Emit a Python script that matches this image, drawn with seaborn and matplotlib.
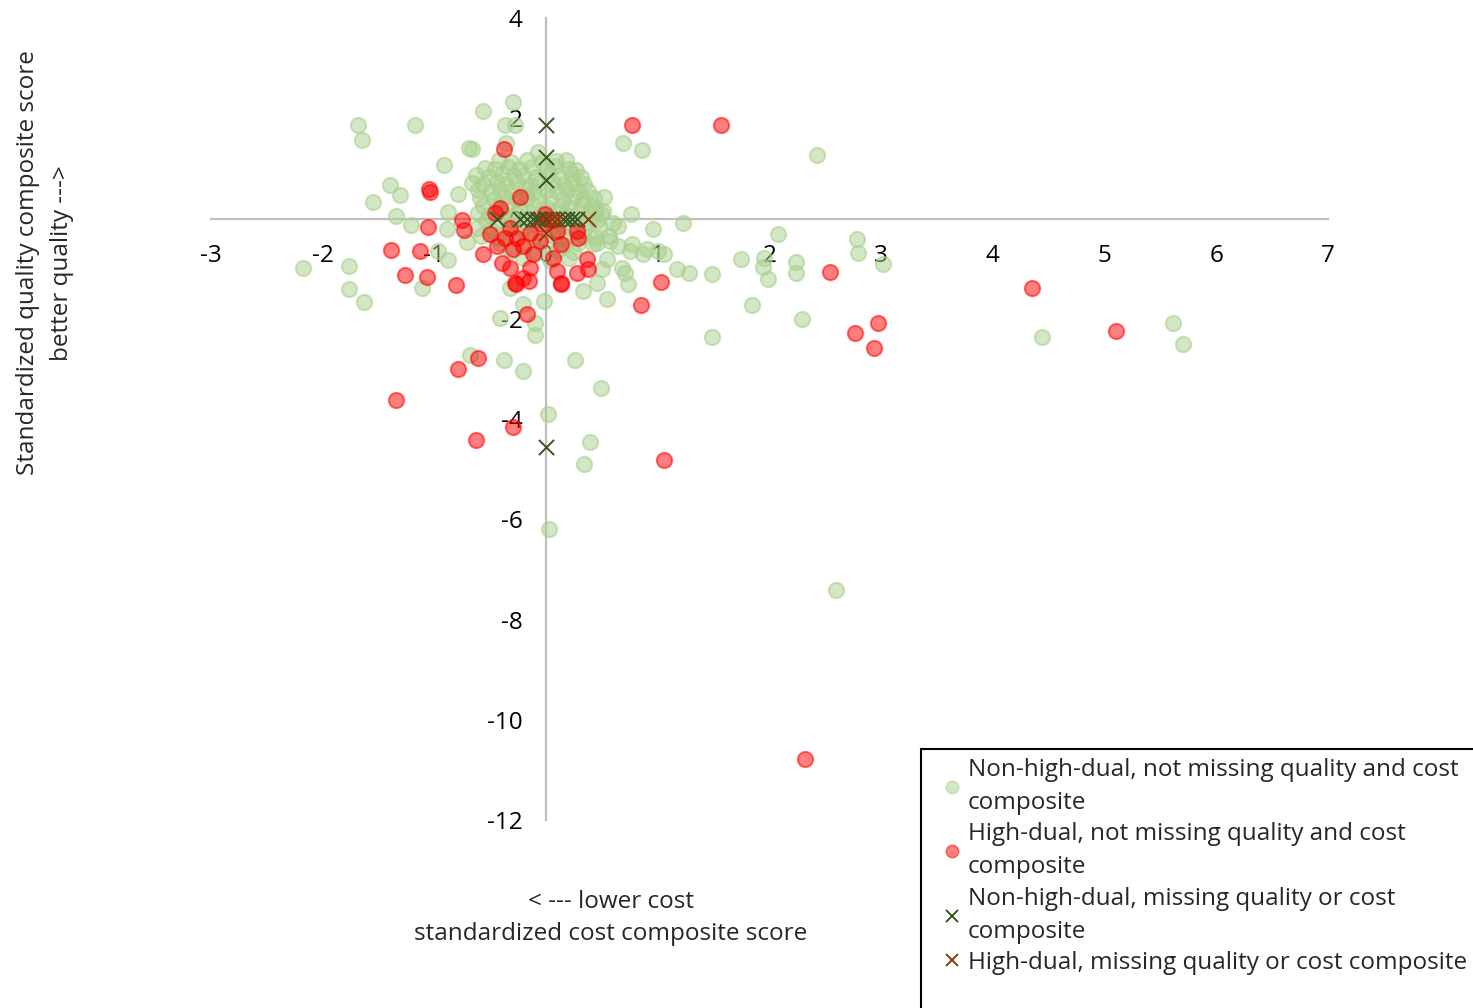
import matplotlib
matplotlib.use("Agg")
import matplotlib.pyplot as plt
import seaborn as sns
import pandas as pd
from matplotlib.lines import Line2D
from matplotlib.patches import Rectangle

# ------------------- Data ------------------- #
# non-high-dual, not missing quality and cost composite
green_x = [
    -2.18, -1.76, -1.76, -1.63, -1.68, -1.65, -1.17, -0.56, -0.30, -0.37, -0.28,
    -0.69, -0.66, -0.36, -0.07, 0.18, 0.69, 0.86, 2.43, -0.91, -1.40, -1.31,
    -1.55, -1.34, -1.21, -0.79, -0.88, -0.89, -0.71, -0.97, -0.88, -1.11,
    0.52, 0.44, 0.76, 0.51, 1.23, 0.96, 0.60, 0.64, 0.56, 0.57, 0.64, 0.77,
    0.75, 0.87, 0.90, 1.00, 1.06, 0.68, 0.71, 0.73, 0.50, 0.46, 0.55, 1.17,
    1.28, 1.49, 2.08, 2.78, 2.79, 1.75, 1.95, 1.94, 1.99, 2.24, 2.24, 3.02,
    1.84, 2.29, 1.49, 4.44, 5.61, 5.70, 2.60,
    -0.32, 0.33, -0.21, -0.02, -0.41, -0.10, -0.10, -0.68, -0.38, -0.21, 0.26,
    0.49, 0.02, 0.39, 0.34, 0.03, 0.55, 0.46,
    # dense cluster
    -0.42, -0.31, -0.17, -0.04, 0.09, -0.55, -0.46, -0.34, -0.24, -0.13, 0.01,
    0.08, 0.21, 0.27, -0.63, -0.51, -0.39, -0.29, -0.21, -0.09, 0.03, 0.12,
    0.23, 0.31, -0.66, -0.56, -0.44, -0.36, -0.26, -0.14, -0.06, 0.06, 0.16,
    0.24, 0.34, -0.61, -0.49, -0.41, -0.31, -0.19, -0.11, 0.01, 0.11, 0.19,
    0.29, 0.38, -0.59, -0.47, -0.37, -0.27, -0.17, -0.07, 0.04, 0.15, 0.25,
    0.33, 0.43, -0.56, -0.44, -0.34, -0.23, -0.12, 0.01, 0.13, 0.21, 0.32,
    0.41, -0.61, -0.51, -0.39, -0.27, -0.16, -0.04, 0.08, 0.18, 0.29, 0.39,
    0.49, -0.54, -0.44, -0.31, -0.19, -0.09, 0.06, 0.14, 0.26, 0.36, 0.46,
    -0.62, -0.49, -0.35, -0.21, -0.06, 0.11, 0.22, 0.34, 0.48, -0.58, -0.45,
    -0.29, -0.12, 0.05, 0.19, 0.33, 0.44, -0.41, -0.19, 0.01, 0.16, 0.29,
    0.42, -0.31, -0.09, 0.11, 0.24, -0.21, 0.04, 0.21,
]
green_y = [
    -0.98, -0.94, -1.40, -1.66, 1.86, 1.57, 1.86, 2.14, 2.32, 1.86, 1.86,
    1.40, 1.38, 1.50, 1.32, 1.16, 1.50, 1.36, 1.26, 1.06, 0.66, 0.46,
    0.32, 0.06, -0.12, 0.48, 0.14, -0.20, -0.46, -0.64, -0.82, -1.38,
    0.42, 0.20, 0.10, 0.16, -0.08, -0.20, -0.08, -0.14, -0.34, -0.44, -0.54, -0.50,
    -0.64, -0.70, -0.60, -0.64, -0.70, -0.98, -1.08, -1.30, -1.00, -1.28, -0.80, -1.00,
    -1.08, -1.10, -0.30, -0.40, -0.68, -0.80, -0.78, -0.97, -1.20, -0.86, -1.08, -0.90,
    -1.72, -2.00, -2.36, -2.36, -2.08, -2.50, -7.41,
    -1.38, -1.44, -1.70, -1.64, -1.98, -2.08, -2.32, -2.73, -2.83, -3.05, -2.83,
    -3.39, -3.89, -4.45, -4.89, -6.19, -1.60, -0.48,
    # dense cluster
    1.16, 1.13, 1.17, 1.12, 1.14, 1.01, 0.98, 1.03, 0.99, 1.02, 0.97,
    1.04, 0.98, 0.96, 0.86, 0.83, 0.88, 0.84, 0.87, 0.82, 0.86, 0.84,
    0.88, 0.83, 0.71, 0.68, 0.72, 0.69, 0.73, 0.67, 0.71, 0.70, 0.68,
    0.72, 0.69, 0.56, 0.53, 0.57, 0.54, 0.58, 0.52, 0.56, 0.53, 0.57,
    0.54, 0.55, 0.41, 0.38, 0.42, 0.39, 0.43, 0.37, 0.41, 0.38, 0.42,
    0.39, 0.40, 0.26, 0.23, 0.27, 0.24, 0.28, 0.22, 0.26, 0.23, 0.27,
    0.25, 0.11, 0.08, 0.12, 0.09, 0.13, 0.07, 0.11, 0.08, 0.12, 0.09,
    0.10, -0.04, -0.07, -0.03, -0.06, -0.02, -0.05, -0.08, -0.04, -0.06, -0.03,
    -0.19, -0.22, -0.18, -0.21, -0.17, -0.22, -0.19, -0.21, -0.18, -0.34, -0.37,
    -0.33, -0.36, -0.32, -0.37, -0.34, -0.36, -0.49, -0.52, -0.48, -0.53, -0.49,
    -0.51, -0.64, -0.67, -0.63, -0.66, -0.79, -0.82, -0.78,
]

# high-dual, not missing quality and cost composite
red_x = [
    0.77, 1.57, -0.38, -1.05, -1.04, -1.06, -1.39, -1.13, -1.26, -1.07, -0.81,
    1.03, 0.85, -0.17, -0.61, -0.79, -1.34, -0.63, -0.30, 1.06, 2.32, 2.54,
    4.35, 2.97, 2.77, 2.94, 5.10, -0.27, -0.15, 0.13,
    -0.23, -0.41, -0.46, -0.75, -0.73, -0.56, -0.44, -0.39, -0.32, -0.37, -0.26,
    -0.21, -0.14, -0.12, -0.01, 0.10, 0.13, 0.06, 0.10, 0.28, 0.29, 0.37,
    0.38, 0.28, 0.13, -0.14, -0.21, -0.28, -0.32, -0.04, 0.05, -0.50, -0.30,
    -0.05,
]
red_y = [
    1.86, 1.86, 1.38, 0.58, 0.52, -0.16, -0.62, -0.64, -1.12, -1.16, -1.32,
    -1.26, -1.72, -1.90, -2.79, -3.01, -3.63, -4.41, -4.15, -4.81, -10.78, -1.06,
    -1.38, -2.08, -2.28, -2.58, -2.24, -1.30, -1.24, -1.30,
    0.42, 0.22, 0.12, -0.02, -0.22, -0.70, -0.54, -0.88, -0.98, -0.38, -0.38,
    -0.54, -0.28, -0.70, 0.10, -0.24, -0.50, -0.78, -1.04, -0.24, -0.38, -0.80,
    -1.00, -1.08, -1.28, -0.98, -1.18, -1.28, -0.18, -0.10, -0.02, -0.30, -0.60,
    -0.45,
]

# missing quality or cost composite
miss_green_x = [0.0, 0.0, 0.0, 0.0, -0.44, -0.23, -0.17, -0.12, -0.08, 0.0, 0.15, 0.19, 0.23, 0.28]
miss_green_y = [1.86, 1.22, 0.76, -4.55, 0.0, 0.0, 0.0, 0.0, 0.0, 0.0, 0.0, 0.0, 0.0, 0.0]
miss_red_x = [-0.05, 0.05, 0.10, 0.38, 0.0]
miss_red_y = [0.0, 0.0, 0.0, 0.0, -0.28]

labels = [
    "Non-high-dual, not missing quality and cost\ncomposite",
    "High-dual, not missing quality and cost\ncomposite",
    "Non-high-dual, missing quality or cost\ncomposite",
    "High-dual, missing quality or cost composite",
]

x_ticks = [-3, -2, -1, 0, 1, 2, 3, 4, 5, 6, 7]
y_ticks = [-12, -10, -8, -6, -4, -2, 0, 2, 4]

# ------------------- Style ------------------- #
sns.set_style("white")
plt.rcParams["font.family"] = ["Open Sans", "DejaVu Sans"]

green_face = (0.663, 0.820, 0.557, 0.5)
green_edge = (0.663, 0.820, 0.557, 0.6)
red_face = (1.0, 0.0, 0.0, 0.5)
red_edge = (1.0, 0.0, 0.0, 0.55)
dark_green = "#375623"
brown = "#843C0C"
axis_grey = "#BFBFBF"
fs = 17.5

fig = plt.figure(figsize=(14.73, 10.08), dpi=100)
ax = fig.add_axes([0.1432, 0.1865, 0.7583, 0.7956])

green_df = pd.DataFrame({"x": green_x, "y": green_y})
red_df = pd.DataFrame({"x": red_x, "y": red_y})
mg_df = pd.DataFrame({"x": miss_green_x, "y": miss_green_y})
mr_df = pd.DataFrame({"x": miss_red_x, "y": miss_red_y})

sns.scatterplot(data=green_df, x="x", y="y", ax=ax, s=120, color=green_face,
                edgecolor=green_edge, linewidth=1.5, legend=False, zorder=3)
sns.scatterplot(data=red_df, x="x", y="y", ax=ax, s=120, color=red_face,
                edgecolor=red_edge, linewidth=1.5, legend=False, zorder=4)
sns.scatterplot(data=mg_df, x="x", y="y", ax=ax, s=120, marker="x", color=dark_green,
                linewidth=1.4, legend=False, zorder=5)
sns.scatterplot(data=mr_df, x="x", y="y", ax=ax, s=120, marker="x", color=brown,
                linewidth=1.4, legend=False, zorder=6)

ax.set_xlim(-3, 7)
ax.set_ylim(-12, 4)
ax.set_xticks(x_ticks)
ax.set_yticks(y_ticks)
ax.set_xticklabels([str(t) for t in x_ticks])
ax.set_yticklabels([str(t) for t in y_ticks])
ax.set_xlabel("")
ax.set_ylabel("")

# axes crossing at the origin
ax.spines["left"].set_position(("data", 0))
ax.spines["bottom"].set_position(("data", 0))
for side in ["top", "right"]:
    ax.spines[side].set_visible(False)
for side in ["left", "bottom"]:
    ax.spines[side].set_color(axis_grey)
    ax.spines[side].set_linewidth(1.6)
    ax.spines[side].set_zorder(1)
ax.tick_params(axis="x", length=0, pad=18, labelsize=fs, colors="black")
ax.tick_params(axis="y", length=0, pad=17, labelsize=fs, colors="black")
ax.grid(False)

# axis titles
fig.text(611 / 1473, 1 - 918 / 1008, "< --- lower cost\nstandardized cost composite score",
         ha="center", va="center", fontsize=fs, linespacing=1.5)
fig.text(45 / 1473, 1 - 263 / 1008, "Standardized quality composite score\nbetter quality --->",
         ha="center", va="center", rotation=90, fontsize=fs, linespacing=1.5)

# legend box running off the figure edge
fig.patches.append(Rectangle((921 / 1473, -0.05), 0.5, 0.05 + (1 - 749 / 1008),
                             transform=fig.transFigure, fill=False, edgecolor="black",
                             linewidth=1.5, zorder=0))
handles = [
    Line2D([], [], linestyle="none", marker="o", markersize=9, markerfacecolor=green_face,
           markeredgecolor=green_edge),
    Line2D([], [], linestyle="none", marker="o", markersize=9, markerfacecolor=red_face,
           markeredgecolor=red_edge),
    Line2D([], [], linestyle="none", marker="x", markersize=9, color=dark_green, markeredgewidth=1.4),
    Line2D([], [], linestyle="none", marker="x", markersize=9, color=brown, markeredgewidth=1.4),
]
leg = fig.legend(handles, labels, loc="upper left", bbox_to_anchor=(928 / 1473, 1 - 741 / 1008),
                 frameon=False, fontsize=fs, handlelength=0.6, handletextpad=0.35,
                 labelspacing=0.3, borderpad=0.2)
for t in leg.get_texts():
    t.set_linespacing(1.5)

fig.savefig("out.png", dpi=100)
